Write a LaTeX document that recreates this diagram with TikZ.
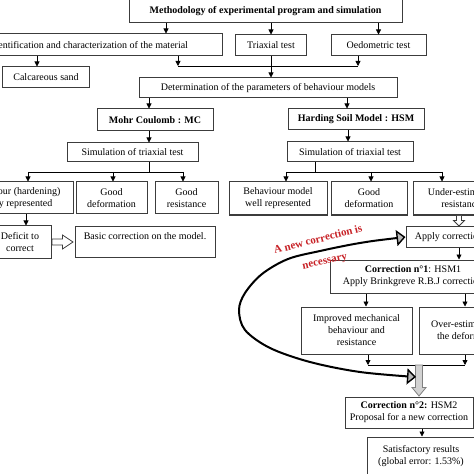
\documentclass[tikz,border=0pt]{standalone}
\usepackage{fontspec}
\setmainfont{Liberation Serif}
\usetikzlibrary{arrows.meta,calc}
\definecolor{boxline}{RGB}{60,60,60}
\definecolor{redtxt}{RGB}{200,35,40}
\begin{document}
\begin{tikzpicture}[x=1bp,y=-1bp,
  box/.style={draw=boxline, line width=1bp, fill=white, align=center, inner sep=1bp, font=\fontsize{10bp}{12bp}\selectfont},
  arr/.style={-{Triangle[length=5bp,width=5bp]}, line width=0.8bp},
  ln/.style={line width=0.8bp},
  hollow/.style={draw=boxline, line width=0.8bp, fill=white},
  greyblock/.style={draw=gray, line width=0.8bp, fill=gray!35},
  loopline/.style={line width=2bp, {Triangle[length=9bp,width=16bp,fill=gray!55,line width=1.4bp]}-{Triangle[length=9bp,width=16bp,fill=gray!55,line width=1.4bp]}},
  redlab/.style={text=redtxt, font=\fontsize{11bp}{12bp}\selectfont\bfseries, inner sep=0}
]
\useasboundingbox (0,0) rectangle (474,474);
\fill[white] (0,0) rectangle (474,474);
\clip (0,0) rectangle (474,474);

\node[box, minimum width=273bp, minimum height=24bp] (top) at (265.5,11) {\textbf{Methodology of experimental program and simulation}};
\node[box, minimum width=266bp, minimum height=22bp] (ident) at (89,45) {Identification and characterization of the material};
\node[box, minimum width=71bp, minimum height=21bp] (triax) at (271,45.5) {Triaxial test};
\node[box, minimum width=95bp, minimum height=21bp] (oedo) at (378.5,45.5) {Oedometric test};
\node[box, minimum width=86bp, minimum height=21bp] (sand) at (46,77.5) {Calcareous sand};
\node[box, minimum width=258bp, minimum height=20bp] (det) at (268,88) {Determination of the parameters of behaviour models};
\node[box, minimum width=116bp, minimum height=22bp] (mc) at (155,120) {\textbf{Mohr Coulomb : MC}};
\node[box, minimum width=136bp, minimum height=21bp] (hsm) at (356,119.5) {\textbf{Harding Soil Model : HSM}};
\node[box, minimum width=131bp, minimum height=19bp] (simL) at (132.5,152.5) {Simulation of triaxial test};
\node[box, minimum width=126bp, minimum height=20bp] (simR) at (350,152) {Simulation of triaxial test};
\node[box, minimum width=116bp, minimum height=32bp] (b1) at (15,198) {Behaviour (hardening)\\poorly represented};
\node[box, minimum width=71bp, minimum height=32bp] (b2) at (111.5,198) {Good\\deformation};
\node[box, minimum width=63bp, minimum height=32bp] (b3) at (186.5,198) {Good\\resistance};
\node[box, minimum width=98bp, minimum height=33bp] (b4) at (278,198.5) {Behaviour model\\well represented};
\node[box, minimum width=76bp, minimum height=33bp] (b5) at (369,198.5) {Good\\deformation};
\node[box, minimum width=96bp, minimum height=33bp] (b6) at (461,198.5) {Under-estimated\\resistance};
\node[box, minimum width=62bp, minimum height=32bp] (deficit) at (20,242) {Deficit to\\correct};
\node[box, minimum width=140bp, minimum height=30bp] (basic) at (145,242) {Basic correction on the model.\\\mbox{}};
\node[box, minimum width=86bp, minimum height=20bp] (apply) at (449,237) {Apply correction};
\node[box, minimum width=166bp, minimum height=33bp] (c1) at (413,276.5) {\textbf{Correction n°1}: HSM1\\Apply Brinkgreve R.B.J correction};
\node[box, minimum width=111bp, minimum height=47bp] (impr) at (356.5,330.5) {Improved mechanical\\behaviour and\\resistance};
\node[box, minimum width=100bp, minimum height=47bp] (over) at (469,330.5) {Over-estimation of\\the deformation};
\node[box, minimum width=128bp, minimum height=31bp] (c2) at (409,412.5) {\textbf{Correction n°2:} HSM2\\Proposal for a new correction};
\node[box, minimum width=108bp, minimum height=38bp] (sat) at (421,456) {Satisfactory results\\(global error: 1.53\%)};

% top level
\draw[arr] (166,0 |- top.south) -- (166,0 |- ident.north);
\draw[arr] (top.south -| triax.north) -- (triax.north);
\draw[arr] (top.south -| oedo.north) -- (oedo.north);
\draw[arr] (37,0 |- ident.south) -- (37,0 |- sand.north);
\coordinate (jA) at (178,66);
\coordinate (jB) at (358,66);
\draw[arr] (jA |- ident.south) -- (jA);
\draw[arr] (jB |- oedo.south) -- (jB);
\draw[ln] (jA) -- (jB);
\draw[arr] (triax.south) -- (triax.south |- det.north);
\draw[arr] (149,0 |- det.south) -- (149,0 |- mc.north);
\draw[arr] (347,0 |- det.south) -- (347,0 |- hsm.north);
\draw[arr] (149,0 |- mc.south) -- (149,0 |- simL.north);
\draw[arr] (348,0 |- hsm.south) -- (348,0 |- simR.north);

% left tree
\coordinate (jL) at (149,172);
\draw[ln] (jL |- simL.south) -- (jL);
\draw[ln] (28,172) -- (183,172);
\draw[arr] (28,172) -- (28,0 |- b1.north);
\draw[arr] (113,172) -- (113,0 |- b2.north);
\draw[arr] (183,172) -- (183,0 |- b3.north);

% right tree
\coordinate (jR) at (315,172);
\draw[ln] (jR |- simR.south) -- (jR);
\draw[ln] (286,172) -- (442,172);
\draw[arr] (286,172) -- (286,0 |- b4.north);
\draw[arr] (371,172) -- (371,0 |- b5.north);
\draw[arr] (442,172) -- (442,0 |- b6.north);

\draw[arr] (26,0 |- b1.south) -- (26,0 |- deficit.north);

% hollow arrow deficit -> basic
\draw[hollow] let \p1=(deficit.east), \p2=(basic.west) in
  (\x1+0.5bp,\y1+3bp) -- (\x2-12bp,\y1+3bp) -- (\x2-12bp,\y1+7bp) -- (\x2-1.5bp,\y1)
  -- (\x2-12bp,\y1-7bp) -- (\x2-12bp,\y1-3bp) -- (\x1+0.5bp,\y1-3bp) -- cycle;

% hollow arrow b6 -> apply
\draw[hollow] let \p1=(459,0 |- b6.south), \p2=(459,0 |- apply.north) in
  (\x1-2.5bp,\y1-0.5bp) -- (\x1-2.5bp,\y2+6bp) -- (\x1-5.5bp,\y2+6bp) -- (\x1,\y2+0.5bp)
  -- (\x1+5.5bp,\y2+6bp) -- (\x1+2.5bp,\y2+6bp) -- (\x1+2.5bp,\y1-0.5bp);

\draw[arr] (459,0 |- apply.south) -- (459,0 |- c1.north);
\draw[arr] (366,0 |- c1.south) -- (366,0 |- impr.north);
\draw[arr] (465,0 |- c1.south) -- (465,0 |- over.north);
\coordinate (jC) at (368,365);
\coordinate (jD) at (465,365);
\draw[arr] (jC |- impr.south) -- (jC);
\draw[arr] (jD |- over.south) -- (jD);
\draw[ln] (jC) -- (jD);

% grey block arrow to c2
\coordinate (jG) at (419,365);
\draw[greyblock] let \p1=(jG), \p2=(jG |- c2.north) in
  (\x1-3.5bp,\y1) -- (\x1-3.5bp,\y2+9bp) -- (\x1-7bp,\y2+9bp) -- (\x1,\y2+0.5bp)
  -- (\x1+7bp,\y2+9bp) -- (\x1+3.5bp,\y2+9bp) -- (\x1+3.5bp,\y1) -- cycle;

\draw[arr] (422,0 |- c2.south) -- (422,0 |- sat.north);

% loop
\coordinate (cend) at (416,377);
\draw[loopline] plot[smooth, tension=0.55] coordinates {(apply.west) (360,243) (320,251) (288,259) (262,274) (245,293) (239,310) (245,330) (270,348) (310,362) (360,372) (cend)};

\node[redlab, rotate=14] (lab1) at (318,239) {A new correction is};
\node[redlab, rotate=12] (lab2) at (325,263) {necessary};
\end{tikzpicture}
\end{document}
